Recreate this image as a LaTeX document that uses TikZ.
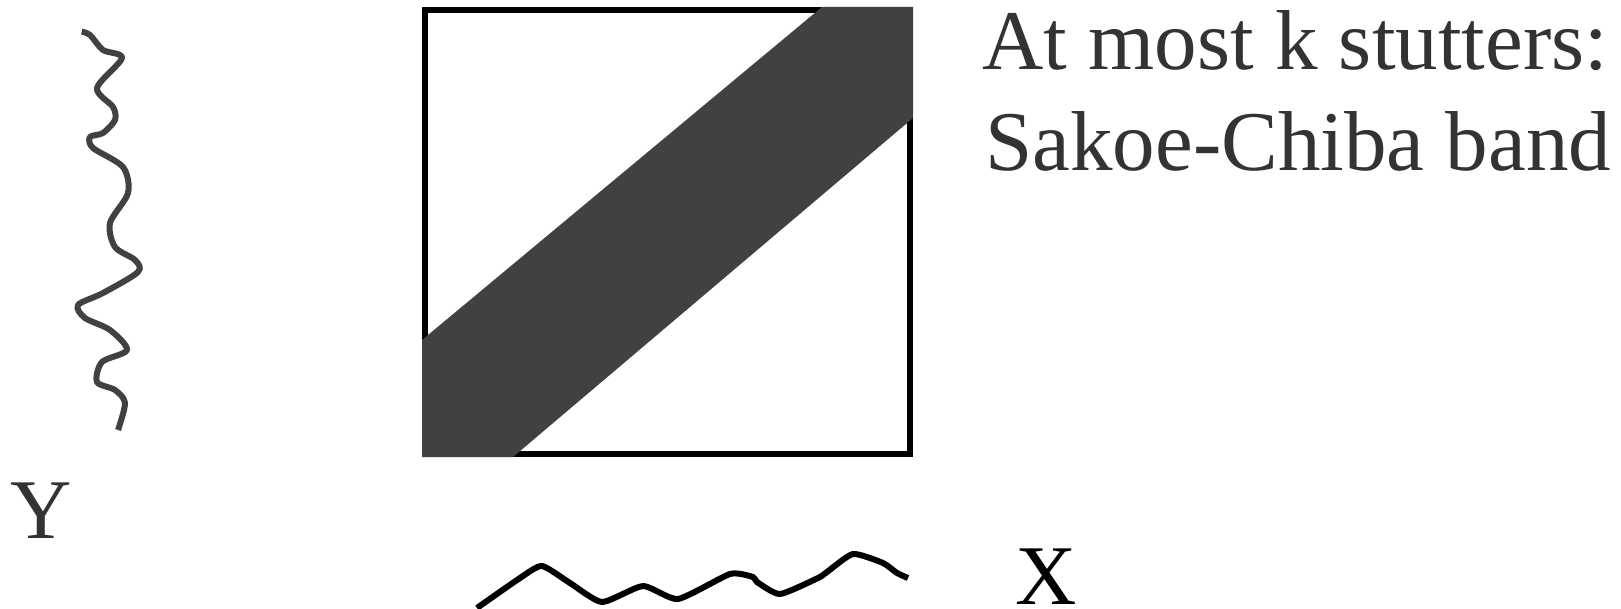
\documentclass[tikz,border=0pt]{standalone}
\usepackage{fontspec}
\setmainfont{Liberation Serif}
\definecolor{band}{HTML}{414141}
\definecolor{ink}{HTML}{333333}
\tikzset{
  wiggle/.style={line width=3pt, line join=round, line cap=butt},
  lbl/.style={font=\fontsize{42.5pt}{50.5pt}\selectfont, inner sep=0pt, anchor=base west},
}
\begin{document}
\begin{tikzpicture}[x=0.5pt,y=-0.5pt]
\useasboundingbox (0,0) rectangle (1621,609);
% box
\draw[line width=2.8pt] (425,10) rectangle (910,454);
% band
\fill[band] (822,7) -- (913,7) -- (913,118) -- (513,457) -- (422,457) -- (422,340) -- cycle;
% Y curve
\draw[wiggle, color=band] plot[smooth, tension=0.5] coordinates {
 (81.7,31.7) (90,35) (103,50) (122,58) (97,88) (113,107) (115,120) (103,133)
 (90,137) (93,148) (123,167) (128,193) (110,223) (115,247) (135,260) (138,272)
 (103,293) (78,305) (85,318) (110,330) (127,350) (102,362) (97,382) (115,390)
 (125,403) (118,430)};
% X curve
\draw[wiggle, color=black] plot[smooth, tension=0.35] coordinates {
 (477,608) (520,578) (542,566) (570,583) (602,602) (643,586) (678,599)
 (730,574) (753,577) (757,582) (780,594) (818,578) (827,572) (853,554)
 (883,563) (897,573) (908,578)};
% labels
\node[lbl, text=ink] (t1) at (982,70) {At most k stutters:};
\node[lbl, text=ink] (t2) at (985,171) {Sakoe-Chiba band};
\node[lbl, text=ink, anchor=base] (ylab) at (41,538) {Y};
\node[lbl, text=black, anchor=base] (xlab) at (1046,604) {X};
\end{tikzpicture}
\end{document}
